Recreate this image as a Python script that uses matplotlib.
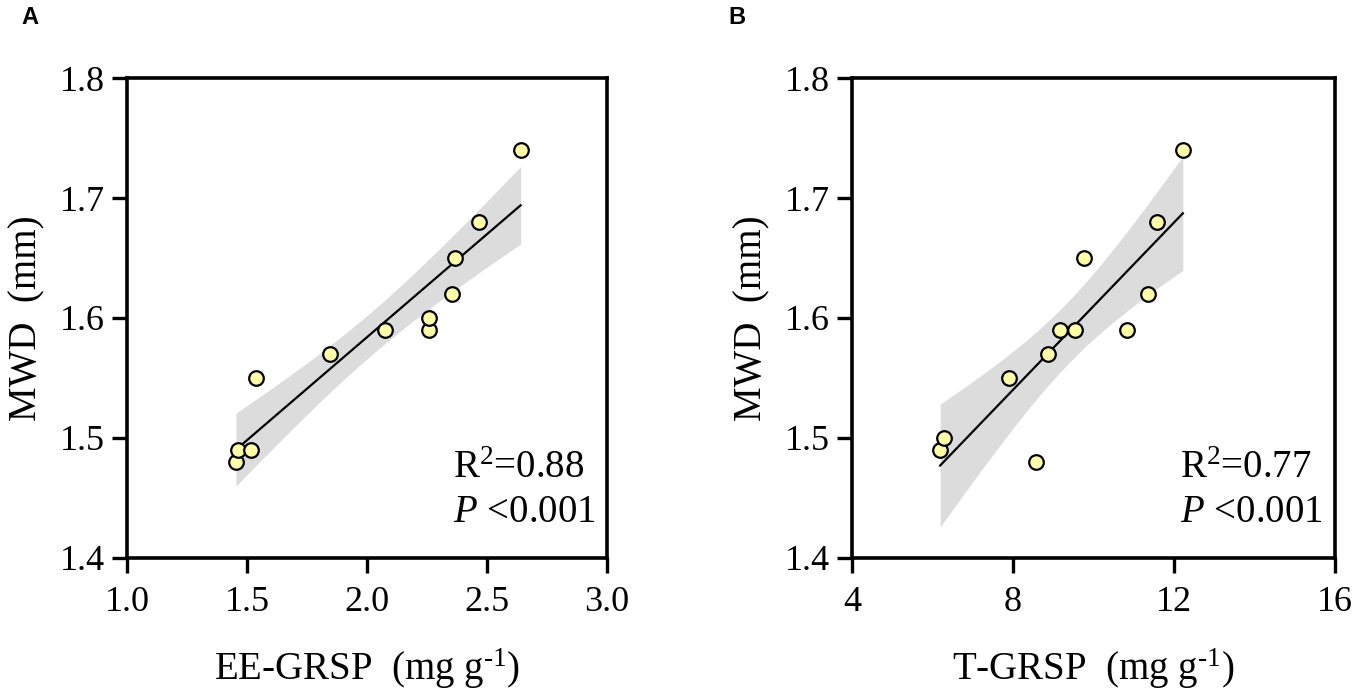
import numpy as np
import matplotlib
matplotlib.use('Agg')
import matplotlib.pyplot as plt

plt.rcParams['font.family'] = ['Liberation Serif', 'DejaVu Serif']
plt.rcParams['mathtext.fontset'] = 'custom'
plt.rcParams['mathtext.rm'] = 'Liberation Serif'
plt.rcParams['mathtext.it'] = 'Liberation Serif:italic'

# panel A: EE-GRSP vs MWD
ee_grsp = [1.454, 1.464, 1.517, 1.536, 1.846, 2.077, 2.26, 2.26, 2.355, 2.367, 2.467, 2.64]
mwd_a = [1.48, 1.49, 1.49, 1.55, 1.57, 1.59, 1.59, 1.60, 1.62, 1.65, 1.68, 1.74]

# panel B: T-GRSP vs MWD
t_grsp = [6.19, 6.29, 8.58, 7.91, 8.87, 9.18, 9.54, 9.76, 10.82, 11.35, 11.59, 12.22]
mwd_b = [1.49, 1.50, 1.48, 1.55, 1.57, 1.59, 1.59, 1.65, 1.59, 1.62, 1.68, 1.74]

xticks_a = [1.0, 1.5, 2.0, 2.5, 3.0]
xticks_b = [4, 8, 12, 16]
yticks = [1.4, 1.5, 1.6, 1.7, 1.8]

stats_a = ['R$^{2}$=0.88', '$\\mathit{P}$ <0.001']
stats_b = ['R$^{2}$=0.77', '$\\mathit{P}$ <0.001']


def fit_band(x, y, t=2.228):
    # linear fit with 95% confidence band of the mean
    x = np.asarray(x); y = np.asarray(y)
    n = len(x)
    b, a = np.polyfit(x, y, 1)
    resid = y - (a + b * x)
    s = np.sqrt(np.sum(resid ** 2) / (n - 2))
    xs = np.linspace(x.min(), x.max(), 100)
    ys = a + b * xs
    se = s * np.sqrt(1 / n + (xs - x.mean()) ** 2 / np.sum((x - x.mean()) ** 2))
    return xs, ys, ys - t * se, ys + t * se


fig = plt.figure(figsize=(13.58, 6.95), dpi=100)
W, H = 1358, 695
ax_a = fig.add_axes([127 / W, 1 - 558 / H, 480 / W, 480 / H])
ax_b = fig.add_axes([852 / W, 1 - 558 / H, 483 / W, 480 / H])

xlab_a = 'EE-GRSP  (mg g$^{\\text{-}1}$)'
xlab_b = 'T-GRSP  (mg g$^{\\text{-}1}$)'

panels = [
    (ax_a, ee_grsp, mwd_a, xticks_a, xlab_a, stats_a, '%.1f'),
    (ax_b, t_grsp, mwd_b, xticks_b, xlab_b, stats_b, '%d'),
]

for ax, x, y, xt, xl, st, fmt in panels:
    xs, ys, lo, hi = fit_band(x, y)
    ax.fill_between(xs, lo, hi, color='#dcdcdc', lw=0, zorder=1)
    ax.plot(xs, ys, color='black', lw=1.6, zorder=2)
    ax.plot(x, y, 'o', ms=10.5, mfc='#ffffaa', mec='black', mew=1.6, zorder=3, clip_on=False)
    ax.set_xlim(xt[0], xt[-1])
    ax.set_ylim(1.4, 1.8)
    ax.set_xticks(xt)
    ax.set_yticks(yticks)
    ax.xaxis.set_major_formatter(matplotlib.ticker.FormatStrFormatter(fmt))
    ax.yaxis.set_major_formatter(matplotlib.ticker.FormatStrFormatter('%.1f'))
    ax.tick_params(direction='out', length=11, width=2.4, labelsize=26, pad=5,
                   top=False, right=False)
    ax.tick_params(axis='x', pad=9)
    for sp in ax.spines.values():
        sp.set_linewidth(2.6)
    ax.set_xlabel(xl, fontsize=28, labelpad=20)
    ax.set_ylabel('MWD  (mm)', fontsize=28, labelpad=10)
    ax.text(0.68, 0.167, st[0], transform=ax.transAxes, fontsize=28, va='baseline', ha='left')
    ax.text(0.68, 0.075, st[1], transform=ax.transAxes, fontsize=28, va='baseline', ha='left')

fig.text(21 / W, 1 - 24 / H, 'A', fontsize=17, fontweight='bold', family='Liberation Sans', va='baseline')
fig.text(728 / W, 1 - 24 / H, 'B', fontsize=17, fontweight='bold', family='Liberation Sans', va='baseline')

fig.savefig('out.png', dpi=100)
